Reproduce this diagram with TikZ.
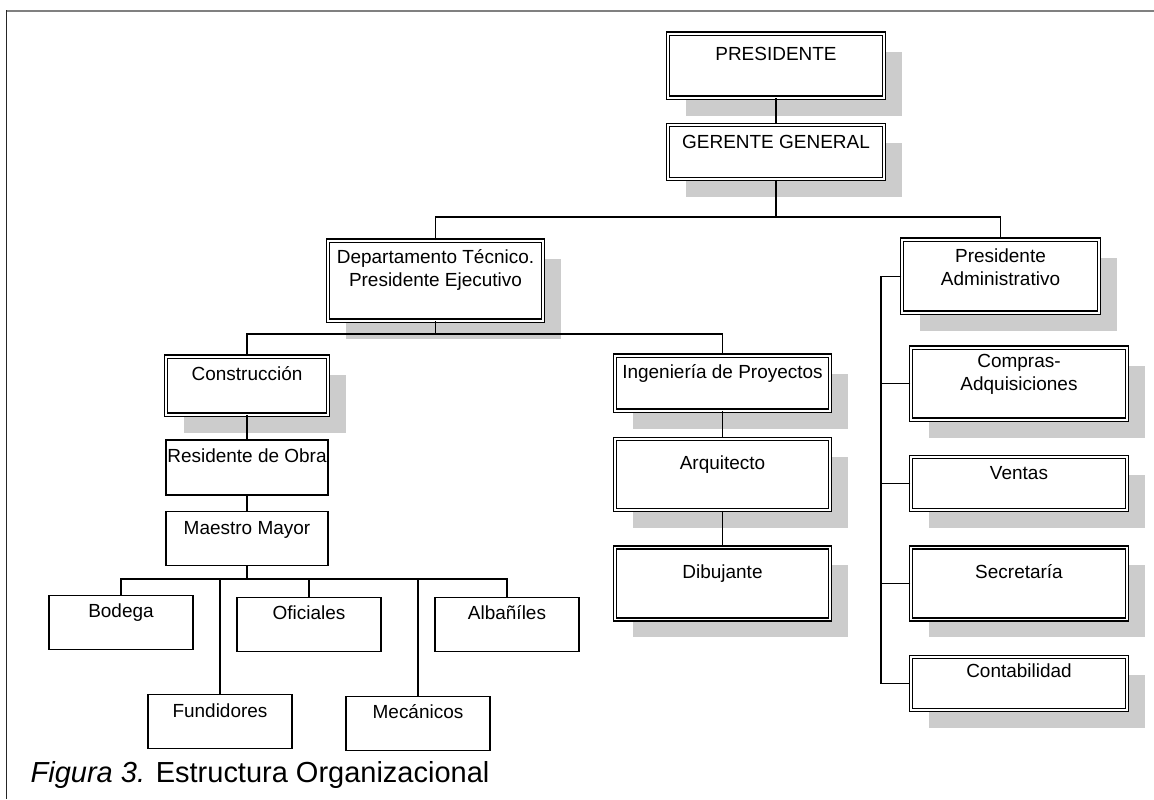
\documentclass[tikz,border=0pt]{standalone}
\usepackage{fontspec}
\setmainfont{Liberation Sans}
\usetikzlibrary{positioning,shadows}

\begin{document}
\begin{tikzpicture}[x=0.02cm, y=-0.02cm, line width=0.8pt,
        font=\fontsize{10.8}{12.8}\selectfont,
        dblnode/.style={rectangle, draw, double, double distance=1pt, fill=white, align=center, anchor=north,
            inner xsep=0pt, inner ysep=0pt, minimum width=4.32cm, text height=0.46cm,
            drop shadow={shadow xshift=0.36cm, shadow yshift=-0.36cm, fill=black!20, opacity=1}},
        plainnode/.style={rectangle, draw, fill=white, align=center, anchor=north,
            inner xsep=0pt, inner ysep=0pt, minimum width=2.88cm, text height=0.44cm, text depth=0.64cm}]

        \useasboundingbox (0,0) rectangle (1154,799);

        % frame
        \draw[black!50, line width=1.2pt] (6,11) -- (1154,11);
        \draw[black!85] (6.5,10) -- (6.5,799);

        % top
        \node[dblnode, text height=0.54cm, text depth=0.74cm] (pres) at (776,33) {PRESIDENTE};
        \node[dblnode, text depth=0.62cm] (ger) [below=0.52cm of pres] {GERENTE GENERAL};

        % departments
        \node[dblnode, minimum width=4.3cm, text height=0.91cm, text depth=0.69cm] (depto) at (435.5,240) {Departamento T\'ecnico.\\Presidente Ejecutivo};
        \node[dblnode, minimum width=3.94cm, text height=0.91cm, text depth=0.55cm] (admin) at (1000.5,239) {Presidente\\Administrativo};

        % administration column
        \node[dblnode, text height=0.85cm, text depth=0.59cm] (compras) at (1019,347) {Compras-\\Adquisiciones};
        \node[dblnode, text height=0.44cm, text depth=0.62cm] (ventas) [below=0.72cm of compras] {Ventas};
        \node[dblnode, text height=0.62cm, text depth=0.82cm] (secre) [below=0.72cm of ventas] {Secretar\'ia};
        \node[dblnode, text height=0.42cm, text depth=0.64cm] (conta) [below=0.72cm of secre] {Contabilidad};

        % projects column
        \node[dblnode, minimum width=4.3cm, text depth=0.64cm] (ingen) at (722.5,355) {Ingenier\'ia de Proyectos};
        \node[dblnode, minimum width=4.3cm, text height=0.6cm, text depth=0.82cm] (arqui) [below=0.54cm of ingen] {Arquitecto};
        \node[dblnode, minimum width=4.3cm, text height=0.62cm, text depth=0.82cm] (dibu) [below=0.72cm of arqui] {Dibujante};

        % construction column
        \node[dblnode, minimum width=3.24cm, text height=0.48cm, text depth=0.68cm] (constr) at (247,356) {Construcci\'on};
        \node[plainnode, minimum width=3.24cm, text depth=0.66cm] (resid) [below=0.48cm of constr] {Residente de Obra};
        \node[plainnode, minimum width=3.24cm, text height=0.46cm, text depth=0.62cm] (maestro) [below=0.3cm of resid] {Maestro Mayor};

        % workers
        \node[plainnode] (bodega) at (121,595) {Bodega};
        \node[plainnode] (oficiales) at (309,597) {Oficiales};
        \node[plainnode] (albaniles) at (507,597) {Alba\~n\'iles};
        \node[plainnode, text height=0.46cm, text depth=0.62cm] (fundidores) at (220,694) {Fundidores};
        \node[plainnode] (mecanicos) at (418,696) {Mec\'anicos};

        % buses
        \coordinate (topbus) at (0,217);
        \coordinate (midbus) at (0,334);
        \coordinate (lowbus) at (0,579);
        \coordinate (sidebus) at (881,0);

        % connectors
        \draw (pres) -- (ger);
        \draw (ger.south) -- (ger.south |- topbus);
        \draw (depto.north) -- (depto.north |- topbus) -| (admin.north);

        \draw (depto.south) -- (depto.south |- midbus);
        \draw (constr.north) -- (constr.north |- midbus) -| (ingen.north);

        \draw (ingen) -- (arqui);
        \draw (arqui) -- (dibu);

        \draw (constr) -- (resid);
        \draw (resid) -- (maestro);

        \draw[line width=1.1pt] (maestro.south) -- (maestro.south |- lowbus);
        \draw (bodega.north) -- (bodega.north |- lowbus) -| (albaniles.north);
        \draw (fundidores.north) -- (fundidores.north |- lowbus);
        \draw (oficiales.north) -- (oficiales.north |- lowbus);
        \draw (mecanicos.north) -- (mecanicos.north |- lowbus);

        \draw (admin.west) -- (admin.west -| sidebus) |- (conta.west);
        \draw (compras.west) -- (compras.west -| sidebus);
        \draw (ventas.west) -- (ventas.west -| sidebus);
        \draw (secre.west) -- (secre.west -| sidebus);

        % caption
        \node[anchor=base west, inner sep=0pt, font=\fontsize{16.5}{20}\selectfont] (caption) at (30,782) {\textit{Figura 3.} Estructura Organizacional};

\end{tikzpicture}
\end{document}
